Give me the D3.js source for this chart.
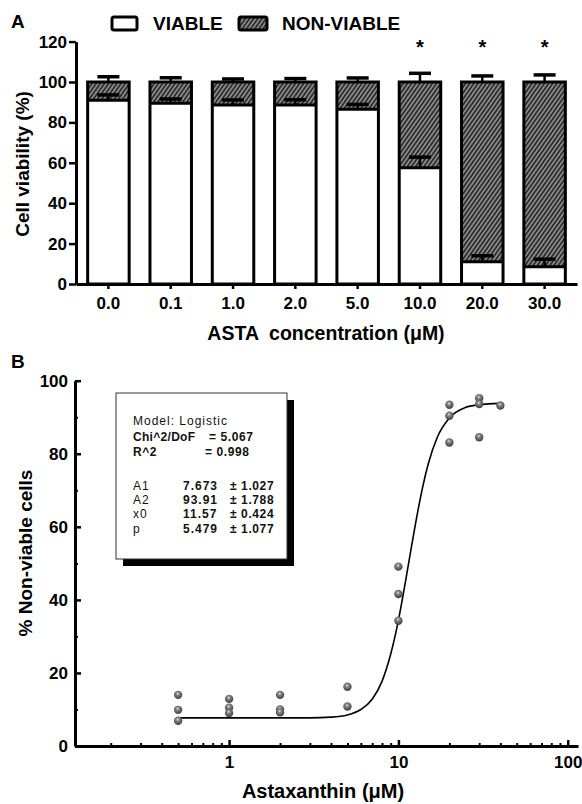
<!DOCTYPE html>
<html lang="en">
<head>
    <meta charset="UTF-8">
    <title>Astaxanthin cell viability</title>
    <script src="https://d3js.org/d3.v7.min.js"></script>
    <style>
        body { margin: 0; background: #fff; }
        svg { display: block; font-family: "Liberation Sans", Arial, sans-serif; }
        .bold { font-weight: bold; }
    </style>
</head>
<body>
    <script>
        // panel A data
        const concentrations = ["0.0", "0.1", "1.0", "2.0", "5.0", "10.0", "20.0", "30.0"];
        const viable = [91.0, 89.5, 88.6, 88.6, 86.5, 57.5, 11.0, 8.5];
        const viableErr = [2.6, 2.1, 2.5, 2.6, 2.4, 5.3, 3.0, 3.8];
        const nonViable = [9.0, 10.5, 11.4, 11.4, 13.5, 42.5, 89.0, 91.5];
        const nonViableErr = [2.6, 2.1, 1.5, 1.7, 2.0, 4.3, 3.0, 3.5];
        const significant = [false, false, false, false, false, true, true, true];
        const yTicksA = [0, 20, 40, 60, 80, 100, 120];

        // panel B data
        const doseX = [0.5, 0.5, 0.5, 1, 1, 1, 2, 2, 2, 5, 5, 10, 10, 10, 20, 20, 20, 30, 30, 30, 40];
        const pctNonViable = [14.0, 9.9, 6.9, 12.9, 10.5, 9.0, 14.0, 10.0, 9.2, 16.2, 10.8,
                              49.1, 41.6, 34.3, 93.4, 90.4, 83.1, 95.2, 93.6, 84.5, 93.2];
        const fitX = [0.5, 1, 2, 3, 4, 5, 6, 7, 8, 9, 10, 11, 12, 13, 14, 15, 17, 20, 25, 30, 40];
        const fitY = [7.7, 7.7, 7.7, 7.7, 7.9, 8.5, 10.0, 12.8, 17.7, 25.1, 34.4, 44.9, 55.1,
                      64.1, 71.5, 77.2, 84.6, 89.8, 92.7, 93.4, 93.8];
        const yTicksB = [0, 20, 40, 60, 80, 100];
        const yMinorB = [10, 30, 50, 70, 90];
        const xTicksB = [1, 10, 100];
        const xMinorB = [0.2, 0.3, 0.4, 0.5, 0.6, 0.7, 0.8, 0.9, 2, 3, 4, 5, 6, 7, 8, 9,
                         20, 30, 40, 50, 60, 70, 80, 90];
        const paramNames = ["A1", "A2", "x0", "p"];
        const paramValues = ["7.673", "93.91", "11.57", "5.479"];
        const paramErrors = ["\u00b1 1.027", "\u00b1 1.788", "\u00b1 0.424", "\u00b1 1.077"];

        const w = 582;
        const h = 804;
        const svg = d3.select("body")
            .append("svg")
            .attr("width", w)
            .attr("height", h);

        const defs = svg.append("defs");
        const hatch = defs.append("pattern")
            .attr("id", "hatch")
            .attr("patternUnits", "userSpaceOnUse")
            .attr("width", 3.4)
            .attr("height", 3.4)
            .attr("patternTransform", "rotate(35)");
        hatch.append("rect").attr("width", 3.4).attr("height", 3.4).attr("fill", "#8a8a8a");
        hatch.append("line").attr("x1", 0.8).attr("x2", 0.8).attr("y1", 0).attr("y2", 3.4)
            .attr("stroke", "#2a2a2a").attr("stroke-width", 1.7);

        const ball = defs.append("radialGradient")
            .attr("id", "ball")
            .attr("cx", "45%").attr("cy", "35%").attr("r", "60%");
        ball.append("stop").attr("offset", "0%").attr("stop-color", "#e0e0e0");
        ball.append("stop").attr("offset", "35%").attr("stop-color", "#808080");
        ball.append("stop").attr("offset", "100%").attr("stop-color", "#444");

        // ---------- panel A ----------
        const xA = d3.scaleBand(concentrations, [76, 577]).paddingInner(0.334).paddingOuter(0.187);
        const yA = d3.scaleLinear([0, 120], [284, 41.6]);
        const bw = xA.bandwidth();

        svg.append("text").attr("class", "bold").attr("x", 11).attr("y", 28)
            .attr("font-size", 19).text("A");

        // legend
        svg.append("rect").attr("x", 112).attr("y", 17).attr("width", 25).attr("height", 13)
            .attr("rx", 2).attr("fill", "#fff").attr("stroke", "#000").attr("stroke-width", 3);
        svg.append("text").attr("class", "bold").attr("x", 153).attr("y", 30)
            .attr("font-size", 19).text("VIABLE");
        svg.append("rect").attr("x", 239).attr("y", 17).attr("width", 28).attr("height", 13)
            .attr("rx", 2).attr("fill", "url(#hatch)").attr("stroke", "#000").attr("stroke-width", 3);
        svg.append("text").attr("class", "bold").attr("x", 282).attr("y", 30)
            .attr("font-size", 19).text("NON-VIABLE");

        const bars = svg.append("g").selectAll("g")
            .data(concentrations)
            .enter()
            .append("g");

        bars.append("rect")
            .attr("x", d => xA(d))
            .attr("width", bw)
            .attr("y", (d, i) => yA(viable[i]))
            .attr("height", (d, i) => yA(0) - yA(viable[i]))
            .attr("fill", "#fff");
        bars.append("rect")
            .attr("x", d => xA(d))
            .attr("width", bw)
            .attr("y", (d, i) => yA(viable[i] + nonViable[i]))
            .attr("height", (d, i) => yA(viable[i]) - yA(viable[i] + nonViable[i]))
            .attr("fill", "url(#hatch)");

        // viable error bars
        bars.append("line")
            .attr("x1", d => xA(d) + bw / 2).attr("x2", d => xA(d) + bw / 2)
            .attr("y1", (d, i) => yA(viable[i]))
            .attr("y2", (d, i) => yA(viable[i] + viableErr[i]))
            .attr("stroke", "#000").attr("stroke-width", 2.5);
        bars.append("line")
            .attr("x1", d => xA(d) + bw / 2 - 11).attr("x2", d => xA(d) + bw / 2 + 11)
            .attr("y1", (d, i) => yA(viable[i] + viableErr[i]))
            .attr("y2", (d, i) => yA(viable[i] + viableErr[i]))
            .attr("stroke", "#000").attr("stroke-width", 3.5);

        // outlines and divider
        bars.append("rect")
            .attr("x", d => xA(d))
            .attr("width", bw)
            .attr("y", (d, i) => yA(viable[i] + nonViable[i]))
            .attr("height", (d, i) => yA(0) - yA(viable[i] + nonViable[i]))
            .attr("fill", "none").attr("stroke", "#000").attr("stroke-width", 3);
        bars.append("line")
            .attr("x1", d => xA(d)).attr("x2", d => xA(d) + bw)
            .attr("y1", (d, i) => yA(viable[i])).attr("y2", (d, i) => yA(viable[i]))
            .attr("stroke", "#000").attr("stroke-width", 3);

        // total error bars
        bars.append("line")
            .attr("x1", d => xA(d) + bw / 2).attr("x2", d => xA(d) + bw / 2)
            .attr("y1", (d, i) => yA(viable[i] + nonViable[i]))
            .attr("y2", (d, i) => yA(viable[i] + nonViable[i] + nonViableErr[i]))
            .attr("stroke", "#000").attr("stroke-width", 2.5);
        bars.append("line")
            .attr("x1", d => xA(d) + bw / 2 - 11).attr("x2", d => xA(d) + bw / 2 + 11)
            .attr("y1", (d, i) => yA(viable[i] + nonViable[i] + nonViableErr[i]))
            .attr("y2", (d, i) => yA(viable[i] + nonViable[i] + nonViableErr[i]))
            .attr("stroke", "#000").attr("stroke-width", 3.5);

        bars.filter((d, i) => significant[i])
            .append("text")
            .attr("class", "bold")
            .attr("x", d => xA(d) + bw / 2)
            .attr("y", 54)
            .attr("text-anchor", "middle")
            .attr("font-size", 20)
            .text("*");

        const axisA_y = svg.append("g")
            .attr("transform", "translate(76,0)")
            .call(d3.axisLeft(yA).tickValues(yTicksA).tickSize(7).tickSizeOuter(0).tickPadding(2));
        const axisA_x = svg.append("g")
            .attr("transform", "translate(0,284)")
            .call(d3.axisBottom(xA).tickSize(5).tickSizeOuter(0).tickPadding(8));

        [axisA_y, axisA_x].forEach(g => {
            g.select(".domain").attr("stroke-width", 3);
            g.selectAll(".tick line").attr("stroke-width", 2.5);
            g.selectAll("text").attr("class", "bold").attr("font-size", 17)
                .attr("font-family", "Liberation Sans, Arial, sans-serif").attr("fill", "#000");
        });

        svg.append("text").attr("class", "bold")
            .attr("transform", "translate(29,164) rotate(-90)")
            .attr("text-anchor", "middle").attr("font-size", 19)
            .text("Cell viability (%)");
        svg.append("text").attr("class", "bold")
            .attr("x", 326).attr("y", 340)
            .attr("text-anchor", "middle").attr("font-size", 19.5)
            .attr("xml:space", "preserve")
            .text("ASTA  concentration (\u03bcM)");

        // ---------- panel B ----------
        const xB = d3.scaleLog([0.123, 115], [75, 578]);
        const yB = d3.scaleLinear([0, 100], [746, 380.7]);

        svg.append("text").attr("class", "bold").attr("x", 11).attr("y", 368)
            .attr("font-size", 19).text("B");

        const axisB_y = svg.append("g")
            .attr("transform", "translate(75,0)")
            .call(d3.axisLeft(yB).tickValues(yTicksB).tickSizeInner(-6).tickSizeOuter(0).tickPadding(7));
        svg.append("g")
            .attr("transform", "translate(75,0)")
            .call(d3.axisLeft(yB).tickValues(yMinorB).tickSizeInner(-3).tickSizeOuter(0).tickFormat(""))
            .call(g => g.select(".domain").remove())
            .selectAll(".tick line").attr("stroke-width", 2);
        const axisB_x = svg.append("g")
            .attr("transform", "translate(0,746)")
            .call(d3.axisBottom(xB).tickValues(xTicksB).tickFormat(d3.format("d"))
                .tickSizeInner(-6).tickSizeOuter(0).tickPadding(10));
        svg.append("g")
            .attr("transform", "translate(0,746)")
            .call(d3.axisBottom(xB).tickValues(xMinorB).tickSizeInner(-3).tickSizeOuter(0).tickFormat(""))
            .call(g => g.select(".domain").remove())
            .selectAll(".tick line").attr("stroke-width", 2);

        [axisB_y, axisB_x].forEach(g => {
            g.select(".domain").attr("stroke-width", 3);
            g.selectAll(".tick line").attr("stroke-width", 2.5);
            g.selectAll("text").attr("class", "bold").attr("font-size", 17)
                .attr("font-family", "Liberation Sans, Arial, sans-serif").attr("fill", "#000");
        });

        svg.append("text").attr("class", "bold")
            .attr("transform", "translate(32,553) rotate(-90)")
            .attr("text-anchor", "middle").attr("font-size", 19)
            .text("% Non-viable cells");
        svg.append("text").attr("class", "bold")
            .attr("x", 323).attr("y", 798)
            .attr("text-anchor", "middle").attr("font-size", 20)
            .text("Astaxanthin (\u03bcM)");

        // fit curve
        const fitLine = d3.line()
            .x((d, i) => xB(fitX[i]))
            .y(d => yB(d))
            .curve(d3.curveMonotoneX);
        svg.append("path")
            .attr("d", fitLine(fitY))
            .attr("fill", "none")
            .attr("stroke", "#000")
            .attr("stroke-width", 1.6);

        svg.append("g").selectAll("circle")
            .data(pctNonViable)
            .enter()
            .append("circle")
            .attr("cx", (d, i) => xB(doseX[i]))
            .attr("cy", d => yB(d))
            .attr("r", 4.2)
            .attr("fill", "url(#ball)");

        // inset with fit parameters
        const inset = svg.append("g").attr("font-size", 12).attr("fill", "#111");
        inset.append("rect").attr("x", 123).attr("y", 400).attr("width", 171).attr("height", 166)
            .attr("fill", "#000");
        inset.append("rect").attr("x", 116).attr("y", 393).attr("width", 171).attr("height", 166)
            .attr("fill", "#fff").attr("stroke", "#333").attr("stroke-width", 1);
        inset.append("text").attr("x", 133).attr("y", 425).attr("letter-spacing", 1)
            .text("Model: Logistic");
        inset.append("text").attr("class", "bold").attr("x", 133).attr("y", 441)
            .attr("letter-spacing", 0.3).text("Chi^2/DoF");
        inset.append("text").attr("class", "bold").attr("x", 209).attr("y", 441)
            .attr("letter-spacing", 0.6).text("= 5.067");
        inset.append("text").attr("class", "bold").attr("x", 133).attr("y", 456)
            .attr("letter-spacing", 0.6).text("R^2");
        inset.append("text").attr("class", "bold").attr("x", 205).attr("y", 456)
            .attr("letter-spacing", 0.6).text("= 0.998");

        const rows = inset.selectAll("g.row")
            .data(paramNames)
            .enter()
            .append("g")
            .attr("class", "row");
        rows.append("text").attr("x", 133).attr("y", (d, i) => 490 + i * 14.2)
            .attr("letter-spacing", 1).text(d => d);
        rows.append("text").attr("class", "bold").attr("x", 183).attr("y", (d, i) => 490 + i * 14.2)
            .attr("letter-spacing", 1).text((d, i) => paramValues[i]);
        rows.append("text").attr("class", "bold").attr("x", 230).attr("y", (d, i) => 490 + i * 14.2)
            .attr("letter-spacing", 0.6).text((d, i) => paramErrors[i]);
    </script>
</body>
</html>
